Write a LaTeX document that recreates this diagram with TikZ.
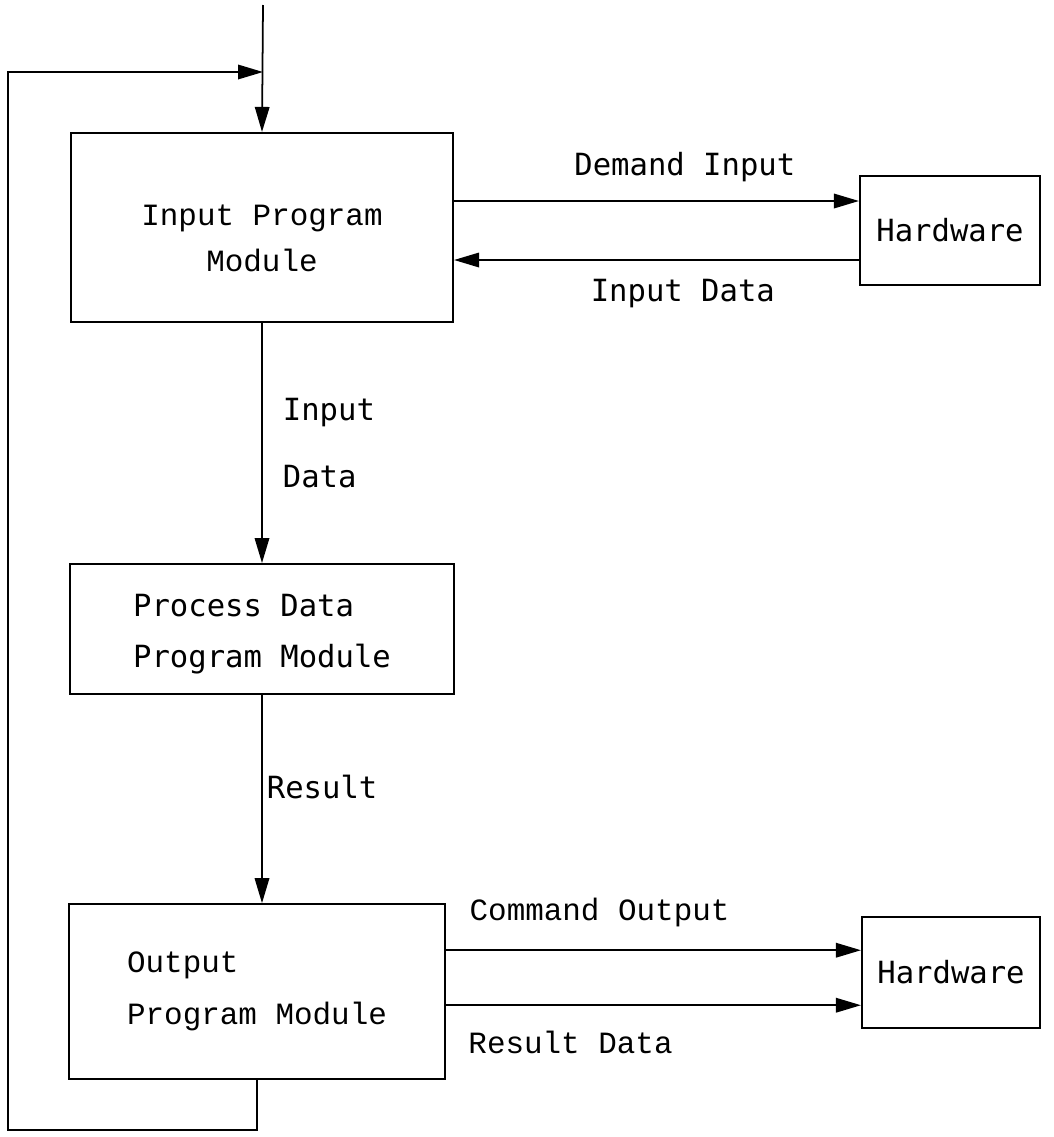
\documentclass[tikz,border=0pt]{standalone}
\usepackage{fontspec}
\setmonofont{Liberation Mono}
\newfontfamily\gothicmono{DejaVu Sans Mono}
\usetikzlibrary{arrows.meta, positioning}

\begin{document}
\begin{tikzpicture}[
  node distance=4.8cm and 8.1cm,
  box/.style={rectangle, draw, line width=1.2pt, align=left, inner sep=0pt},
  cour/.style={font=\fontsize{17.6}{28}\selectfont\ttfamily},
  goth/.style={font=\fontsize{17.4}{28}\selectfont\gothicmono},
  lbl/.style={inner sep=0pt},
  arr/.style={-{Triangle[length=5mm, width=2.9mm]}, line width=1pt}
]
\useasboundingbox (0,0) rectangle (21.08,-22.74);
\node[box, cour, align=center, minimum width=7.64cm, minimum height=3.78cm] (inp) at (5.24,-4.55) {\rule{0pt}{0.85cm}Input Program\\[-1.5pt]Module};
\node[box, goth, minimum width=7.68cm, minimum height=2.6cm, below=of inp] (proc) {\rule{0pt}{0.65cm}Process Data\\[1pt]Program Module};
\node[box, cour, minimum width=7.52cm, minimum height=3.5cm, below=4.16cm of proc, xshift=-1mm] (out) {Output\\[1.5pt]Program Module};
\node[box, goth, minimum width=3.6cm, minimum height=2.18cm] (hw1) at (19.0,-4.61) {Hardware};
\node[box, goth, minimum width=3.56cm, minimum height=2.22cm] (hw2) at (19.02,-19.45) {Hardware};
\coordinate (top) at (5.26,-0.1);
\coordinate (join) at (5.26,-1.44);
\coordinate (lb) at (0.16,-22.6);
\draw[arr] (top) -- (inp.north);
\draw[arr] (out.south) |- (lb) |- (join);
\draw[arr] ([yshift=5.3mm]inp.east) -- ([yshift=5.3mm]inp.east -| hw1.west)
  node[goth, lbl, pos=0.57, above=3.6mm] (dmd) {Demand Input};
\draw[arr] ([yshift=-5.9mm]hw1.west) -- ([yshift=-5.9mm]hw1.west -| inp.east)
  node[goth, lbl, pos=0.435, below=3.7mm] (idat) {Input Data};
\draw[arr] (inp.south) -- (proc.north)
  node[goth, lbl, midway, right=4mm, align=left] (ilbl) {Input\\[10pt]Data};
\draw[arr] (proc.south) -- (proc.south |- out.north)
  node[goth, lbl, midway, right=0.8mm, yshift=2.5mm] (rlbl) {Result};
\draw[arr] ([yshift=8.3mm]out.east) -- ([yshift=8.3mm]out.east -| hw2.west)
  node[cour, lbl, pos=0.37, above=4.4mm] (cmd) {Command Output};
\draw[arr] ([yshift=-2.7mm]out.east) -- ([yshift=-2.7mm]out.east -| hw2.west)
  node[cour, lbl, pos=0.30, below=4.9mm] (rdat) {Result Data};
\end{tikzpicture}
\end{document}
